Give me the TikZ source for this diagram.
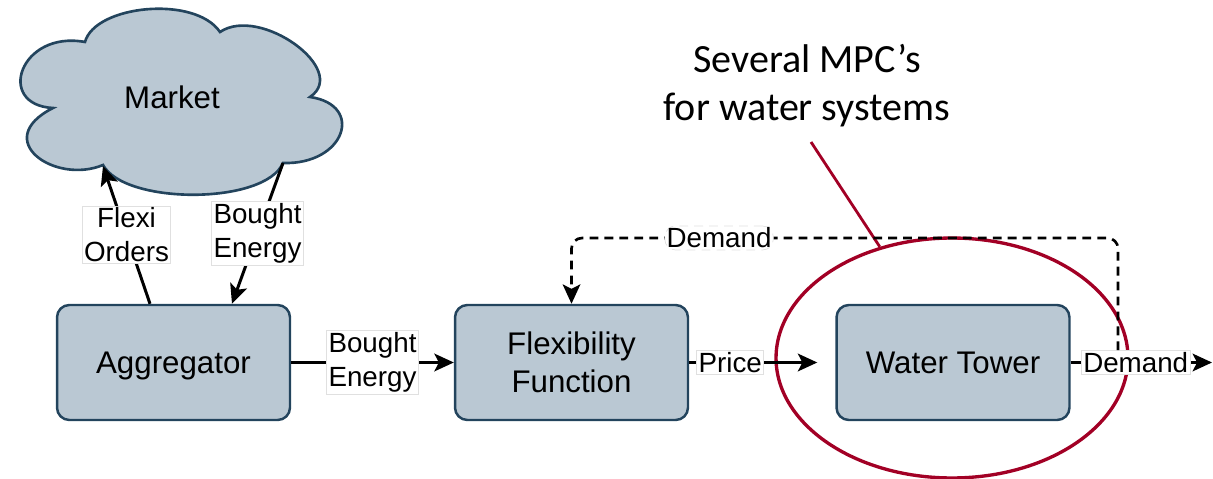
\documentclass[tikz,border=0pt]{standalone}
\usepackage{fontspec}
\setmainfont{Liberation Sans}
\newfontfamily\calib{Carlito}
\usetikzlibrary{arrows.meta,shapes.geometric}
\definecolor{boxfill}{HTML}{BAC8D3}
\definecolor{boxline}{HTML}{23445D}
\definecolor{mpcred}{HTML}{A20025}
\begin{document}
\begin{tikzpicture}[x=0.02cm,y=-0.02cm,
  block/.style={draw=boxline, fill=boxfill, line width=1.4pt, rounded corners=7pt,
    minimum width=4.66cm, minimum height=2.3cm, align=center,
    font=\fontsize{17.8}{21.5}\selectfont},
  lbl/.style={fill=white, draw=black!12, line width=0.4pt, inner xsep=1pt, inner ysep=1pt,
    align=center, font=\fontsize{15.8}{19.3}\selectfont},
  conn/.style={line width=1.7pt, -{Stealth[length=11pt,width=10pt,inset=2.5pt]}},
  dconn/.style={conn, line width=1.5pt, dash pattern=on 5pt off 3.5pt, rounded corners=6pt}]
\useasboundingbox (0,0) rectangle (1213,479);
% cloud
\path[draw=boxline, fill=boxfill, line width=1.5pt]
  (103,165) .. controls (55,185) and (-10,140) .. (53,108)
  .. controls (-5,105) and (20,30) .. (85,42)
  .. controls (95,5) and (195,-5) .. (220,32)
  .. controls (260,5) and (350,70) .. (310,97)
  .. controls (365,105) and (345,165) .. (283,163)
  .. controls (265,205) and (125,205) .. (103,165) -- cycle;
\node[font=\fontsize{17.8}{21.5}\selectfont] (market) at (172,97) {Market};
\coordinate (cFO) at (103,166);
\coordinate (cBE) at (283,163);
% MPC ellipse and callout
\node[draw=mpcred, line width=1.9pt, ellipse, inner sep=0pt, minimum width=7.04cm, minimum height=4.8cm] (mpcell) at (952,358) {};
\node[font=\calib\fontsize{22.8}{27.2}\selectfont, align=center] (mpc) at (807,86) {Several MPC’s\\for water systems};
\coordinate (cstart) at (811,142);
\draw[mpcred, line width=1.6pt] (cstart) -- (mpcell.123);
% blocks
\node[block, text depth=0pt] (agg) at (173.5,362.5) {Aggregator};
\node[block] (flex) at (571.5,362.5) {Flexibility\\Function};
\node[block] (wt) at (953,362.5) {Water Tower};
\coordinate (out) at (1212,362.5);
% connectors
\draw[conn] ([xshift=-0.47cm]agg.north) -- node[lbl] {Flexi\\Orders} (cFO);
\draw[conn] (cBE) -- node[lbl] {Bought\\Energy} ([xshift=1.17cm]agg.north);
\draw[conn] (agg) -- node[lbl] {Bought\\Energy} (flex);
\draw[conn] (flex) -- node[lbl,pos=0.32] {Price} ([xshift=-0.36cm]wt.west);
\draw[conn] (wt) -- node[lbl,pos=0.46] (dem) {Demand} (out);
\coordinate (dtop) at (1118,238);
\draw[dconn] (dem.north -| dtop) -- (dtop) -- node[lbl,pos=0.73] {Demand} (dtop -| flex.north) -- (flex.north);
\end{tikzpicture}
\end{document}
